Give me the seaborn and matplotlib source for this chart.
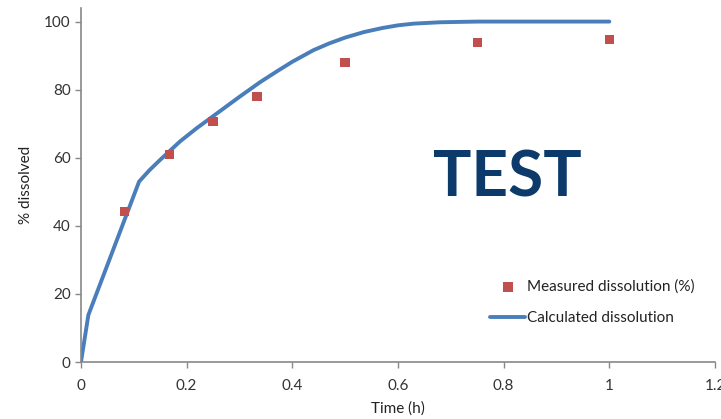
import matplotlib
matplotlib.use("Agg")
import matplotlib.pyplot as plt
import pandas as pd
import seaborn as sns

# measured dissolution (points)
measured_time = [0.083, 0.167, 0.25, 0.333, 0.5, 0.75, 1.0]
measured_pct = [44.2, 60.9, 70.6, 78.0, 87.9, 93.8, 94.7]

# calculated dissolution (curve)
calc_time = [0, 0.014, 0.11, 0.13, 0.15, 0.1875, 0.22, 0.25, 0.3, 0.339, 0.37, 0.4,
             0.44, 0.47, 0.5, 0.535, 0.57, 0.6, 0.63, 0.68, 0.75, 0.85, 1.0]
calc_pct = [0, 13.8, 53.0, 56.4, 59.4, 64.8, 68.8, 72.2, 77.9, 82.2, 85.3, 88.2,
            91.6, 93.6, 95.3, 96.9, 98.1, 98.9, 99.4, 99.8, 100, 100, 100]

x_ticks = [0, 0.2, 0.4, 0.6, 0.8, 1.0, 1.2]
x_tick_labels = ["0", "0.2", "0.4", "0.6", "0.8", "1", "1.2"]
y_ticks = [0, 20, 40, 60, 80, 100]

sns.set_style("ticks")
plt.rcParams['font.family'] = ['Lato', 'DejaVu Sans']

measured = pd.DataFrame({'time': measured_time, 'pct': measured_pct})
calc = pd.DataFrame({'time': calc_time, 'pct': calc_pct})

fig = plt.figure(figsize=(7.21, 4.19), dpi=100)
ax = fig.add_axes([0.1123, 0.136, 0.8794, 0.845])

sns.scatterplot(data=measured, x='time', y='pct', ax=ax, marker='s', s=45,
                color='#c0504d', edgecolor='none', label='Measured dissolution (%)', zorder=3)
sns.lineplot(data=calc, x='time', y='pct', ax=ax, color='#4a7ebb', linewidth=2.8,
             label='Calculated dissolution', zorder=2)

ax.set_xlim(0, 1.2)
ax.set_ylim(0, 104)
ax.set_xticks(x_ticks)
ax.set_xticklabels(x_tick_labels)
ax.set_yticks(y_ticks)
ax.set_xlabel('Time (h)', fontsize=11, color='#222222', labelpad=6)
ax.set_ylabel('% dissolved', fontsize=11, color='#222222', labelpad=8)
ax.tick_params(axis='both', labelsize=11, colors='#333333', length=4, width=1, color='#888888')
ax.tick_params(axis='x', pad=8)
for side in ['top', 'right']:
    ax.spines[side].set_visible(False)
for side in ['left', 'bottom']:
    ax.spines[side].set_color('#888888')
    ax.spines[side].set_linewidth(1.2)

ax.text(0.672, 0.52, 'TEST', transform=ax.transAxes, fontsize=46, fontweight='bold',
        color='#0b3a6b', ha='center', va='center')

ax.get_legend().remove()
handles, labels = ax.get_legend_handles_labels()
fig.legend(handles, labels, loc='upper left', bbox_to_anchor=(0.661, 0.365), frameon=False,
           fontsize=11, handlelength=2.3, handletextpad=0.1, labelspacing=1.1,
           labelcolor='#222222')

fig.savefig('out.png', dpi=100)
